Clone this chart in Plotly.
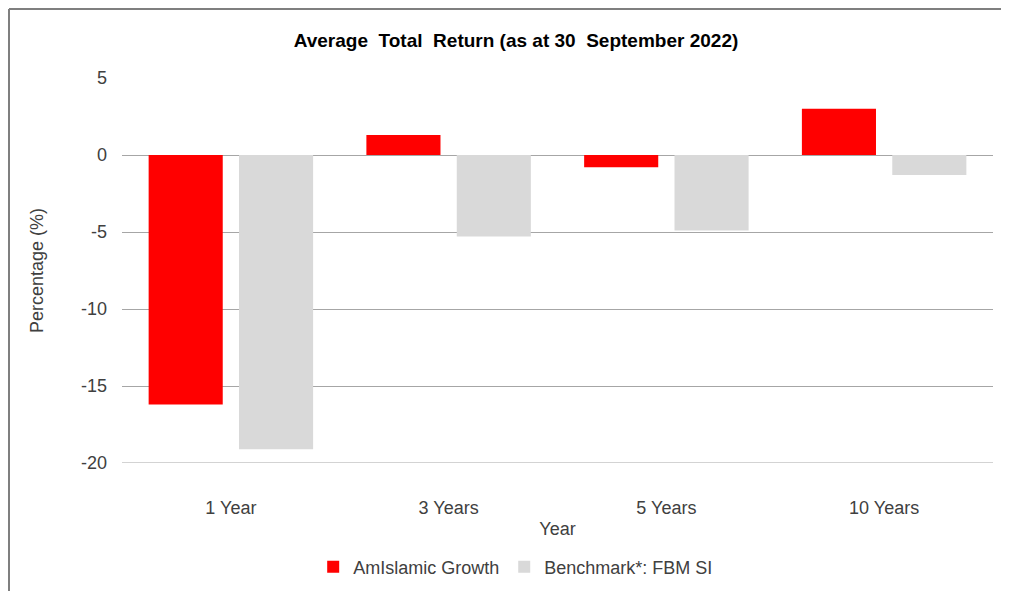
import plotly.graph_objects as go

categories = ["1 Year", "3 Years", "5 Years", "10 Years"]
fund_values = [-16.2, 1.3, -0.8, 3.0]
bench_values = [-19.1, -5.3, -4.9, -1.3]
tick_vals = [5, 0, -5, -10, -15, -20]
tick_text = ["5", "0", "-5", "-10", "-15", "-20"]

fig = go.Figure()
fig.add_trace(go.Bar(x=categories, y=fund_values, name="AmIslamic Growth",
                     marker=dict(color="#ff0000", line=dict(width=0))))
fig.add_trace(go.Bar(x=categories, y=bench_values, name="Benchmark*: FBM SI",
                     marker=dict(color="#d9d9d9", line=dict(width=0))))

font = "Liberation Sans, Arial, sans-serif"
L, T, PW, PH = 114, 70, 871, 385
W, H = 1009, 591
fig.update_layout(
    width=W, height=H,
    margin=dict(l=L, r=W - L - PW, t=T, b=H - T - PH),
    paper_bgcolor="white", plot_bgcolor="white",
    barmode="group", bargap=0.17, bargroupgap=0.18,
    font=dict(family=font, size=18, color="#404040"),
    title=dict(text="<b>Average  Total  Return (as at 30  September 2022)</b>",
               x=508 / W, xanchor="center", y=1 - 32 / H, yanchor="middle",
               font=dict(family=font, size=19, color="#000000")),
    xaxis=dict(title=dict(text="Year", font=dict(size=18, color="#404040"), standoff=5),
               showline=False, ticks="", showgrid=False, ticklabelstandoff=32,
               tickfont=dict(size=18, color="#404040")),
    yaxis=dict(title=dict(text="Percentage (%)", font=dict(size=18, color="#404040"), standoff=32),
               range=[min(tick_vals), max(tick_vals)], tickvals=tick_vals, ticktext=tick_text,
               showgrid=True,
               gridcolor="#a6a6a6", gridwidth=1, zeroline=True, zerolinecolor="#a6a6a6",
               zerolinewidth=1, ticks="", showline=False, ticklabelstandoff=14,
               tickfont=dict(size=18, color="#404040")),
    legend=dict(orientation="h", x=0.452, xanchor="center", y=-0.27, yanchor="middle",
                font=dict(size=18, color="#404040"), itemwidth=30, traceorder="normal"),
    shapes=[
        dict(type="line", xref="paper", yref="y", x0=0, x1=1,
             y0=min(tick_vals), y1=min(tick_vals),
             line=dict(color="#a6a6a6", width=1)),
        dict(type="line", xref="paper", yref="paper", x0=(1 - L) / PW, x1=1.2,
             y0=1 + (T - 1) / PH, y1=1 + (T - 1) / PH,
             line=dict(color="#7f7f7f", width=2)),
        dict(type="line", xref="paper", yref="paper", x0=(1 - L) / PW, x1=(1 - L) / PW,
             y0=1 + (T - 1) / PH, y1=-0.5,
             line=dict(color="#7f7f7f", width=2)),
    ],
)
fig.write_html("out.html")
